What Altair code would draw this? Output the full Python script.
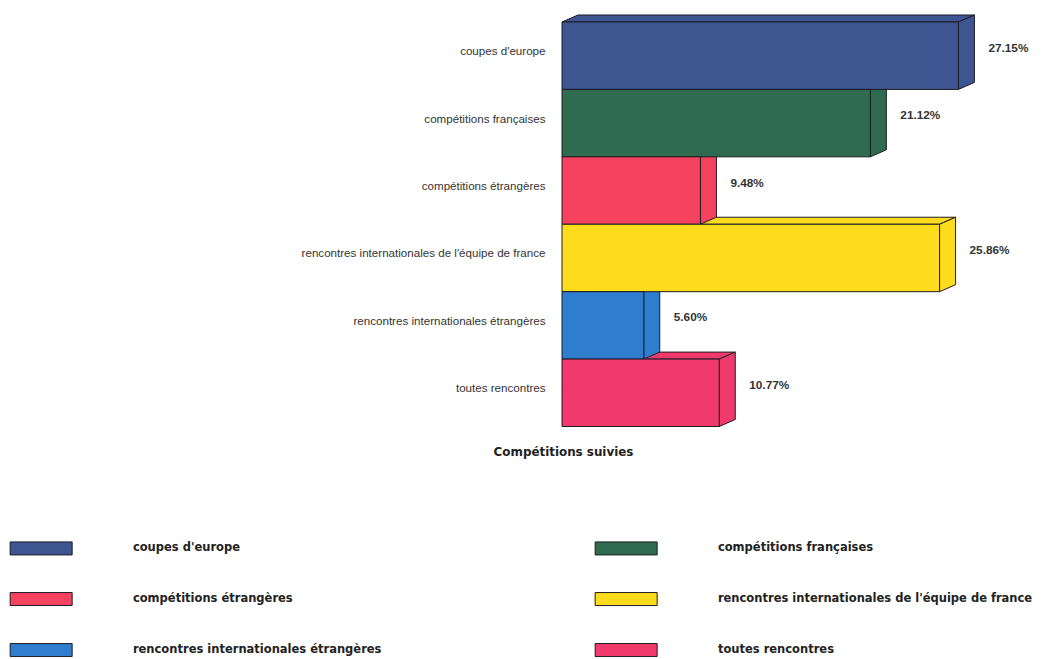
import altair as alt
import pandas as pd

categories = ["coupes d'europe", "compétitions françaises", "compétitions étrangères",
              "rencontres internationales de l'équipe de france",
              "rencontres internationales étrangères", "toutes rencontres"]
values = [27.15, 21.12, 9.48, 25.86, 5.60, 10.77]
labels = ["27.15%", "21.12%", "9.48%", "25.86%", "5.60%", "10.77%"]
colors = ["#3d5590", "#2f6b4f", "#f5435f", "#fedc1c", "#2f7dcf", "#f03a6c"]

PX_PER_PCT = 14.6
ROW_PX = 67.4
DEPTH_X = 16 / PX_PER_PCT
DEPTH_Y = 7 / ROW_PX

front = pd.DataFrame({"cat": categories, "v": values, "label": labels,
                      "row": range(6)})
front["zero"] = 0.0
front["r2"] = front["row"] + 1
front["mid"] = front["row"] + 0.5

side_rows, top_rows = [], []
for r, (c, v) in enumerate(zip(categories, values)):
    side_rows += [
        {"cat": c, "x": v, "y": r, "y2": r + 1},
        {"cat": c, "x": v + DEPTH_X, "y": r - DEPTH_Y, "y2": r + 1 - DEPTH_Y},
    ]
    top_rows += [
        {"cat": c, "x": 0, "y": r, "y2": r},
        {"cat": c, "x": DEPTH_X, "y": r, "y2": r - DEPTH_Y},
        {"cat": c, "x": v, "y": r, "y2": r - DEPTH_Y},
        {"cat": c, "x": v + DEPTH_X, "y": r - DEPTH_Y, "y2": r - DEPTH_Y},
    ]
side = pd.DataFrame(side_rows)
top = pd.DataFrame(top_rows)

W, H = 476, 404.5
xs = alt.Scale(domain=[0, W / PX_PER_PCT], nice=False, zero=False)
ys = alt.Scale(domain=[0, 6], reverse=True, nice=False, zero=False)
fill_scale = alt.Scale(domain=categories, range=colors)
STROKE = "#1c1c24"

label_expr = "[" + ",".join('"' + c + '"' for c in categories) + "][floor(datum.value)]"
x_axis = alt.Axis(labels=False, ticks=False, domain=False, grid=False,
                  title="Compétitions suivies", titleFont="DejaVu Sans",
                  titleFontWeight="bold", titleFontSize=11.9, titleColor="#222",
                  titleX=1, titleY=24.5, titleAlign="center", titleBaseline="middle",
                  titleAnchor="start")
y_axis = alt.Axis(values=[i + 0.5 for i in range(6)], labelExpr=label_expr, title=None,
                  domain=False, ticks=False, grid=False, labelPadding=17, labelOffset=-4,
                  labelFont="Liberation Sans", labelFontSize=11.6, labelColor="#333",
                  labelLimit=400)
legend = alt.Legend(title=None, orient="none", direction="horizontal", columns=2,
                    legendX=-526.6, legendY=520.3,
                    symbolType="M-6.2,-1.3H6.2V1.3H-6.2Z", symbolSize=100,
                    symbolStrokeColor=STROKE, symbolStrokeWidth=1, symbolOpacity=1,
                    labelOffset=86, labelFont="DejaVu Sans", labelFontWeight="bold",
                    labelFontSize=11.5, labelColor="#222", labelLimit=400,
                    columnPadding=210, rowPadding=33)

fill_enc = alt.Fill("cat:N", scale=fill_scale, legend=legend, sort=None)
X = alt.X("x:Q", scale=xs, axis=x_axis)
Y = alt.Y("y:Q", scale=ys, axis=y_axis)

top_layer = alt.Chart(top).mark_area(orient="vertical", stroke=STROKE, strokeWidth=1).encode(
    x=X, y=Y, y2="y2:Q", fill=fill_enc,
)
side_layer = alt.Chart(side).mark_area(orient="vertical", stroke=STROKE, strokeWidth=1).encode(
    x=X, y=Y, y2="y2:Q", fill=fill_enc,
)
front_layer = alt.Chart(front).mark_rect(stroke=STROKE, strokeWidth=1).encode(
    x=alt.X("zero:Q", scale=xs, axis=x_axis),
    x2="v:Q",
    y=alt.Y("row:Q", scale=ys, axis=y_axis),
    y2="r2:Q",
    fill=fill_enc,
)
text_layer = alt.Chart(front).mark_text(
    align="left", baseline="middle", dx=30, dy=-8, font="Liberation Sans",
    fontWeight="bold", fontSize=11.8, color="#333"
).encode(
    x=alt.X("v:Q", scale=xs, axis=x_axis),
    y=alt.Y("mid:Q", scale=ys, axis=y_axis),
    text="label:N",
)

chart = alt.layer(top_layer, side_layer, front_layer, text_layer).properties(
    width=W, height=H, background="white",
    padding={"left": 554, "top": 14, "right": 0, "bottom": 232.5},
    autosize=alt.AutoSizeParams(type="none"),
).configure_view(stroke=None)

chart.save("out.html", embed_options={"renderer": "svg", "actions": False})
